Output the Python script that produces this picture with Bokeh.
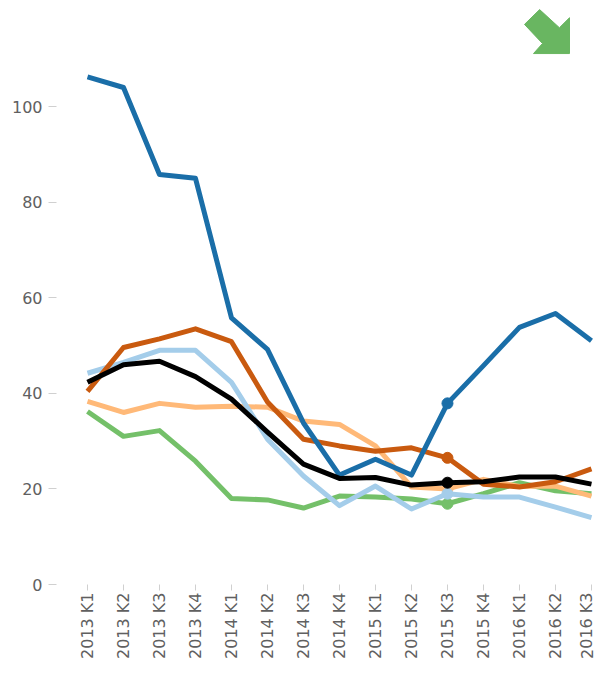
from bokeh.plotting import figure
from bokeh.embed import file_html
from bokeh.resources import INLINE
from bokeh.models import FixedTicker, Range1d

quarters = ["2013 K1", "2013 K2", "2013 K3", "2013 K4",
            "2014 K1", "2014 K2", "2014 K3", "2014 K4",
            "2015 K1", "2015 K2", "2015 K3", "2015 K4",
            "2016 K1", "2016 K2", "2016 K3"]

blue = [106.2, 104.0, 85.8, 85.0, 55.8, 49.2, 33.8, 22.9, 26.2, 22.9, 37.9, 45.8, 53.8, 56.7, 51.0]
dark_orange = [40.4, 49.6, 51.4, 53.5, 50.8, 38.2, 30.4, 29.0, 27.9, 28.6, 26.5, 21.0, 20.4, 21.5, 24.2]
light_blue = [44.2, 46.5, 49.0, 49.0, 42.3, 30.4, 22.7, 16.5, 20.6, 15.8, 19.0, 18.3, 18.3, 16.2, 14.0]
black = [42.3, 46.0, 46.7, 43.5, 38.8, 31.9, 25.2, 22.2, 22.4, 20.8, 21.3, 21.5, 22.5, 22.5, 21.0]
light_orange = [38.3, 36.0, 37.9, 37.1, 37.3, 37.1, 34.2, 33.5, 29.0, 20.4, 20.0, 22.0, 20.5, 20.6, 18.5]
green = [36.2, 31.0, 32.2, 25.8, 18.0, 17.7, 16.0, 18.5, 18.3, 17.9, 16.9, 19.0, 21.3, 19.6, 19.0]

highlight_index = 10  # 2015 K3

# trend arrow icon (data units)
arrow_x = [12.56, 13.11, 13.39, 13.39, 12.39, 12.64, 12.14]
arrow_y = [120.3, 116.5, 118.6, 111.1, 111.1, 113.2, 117.2]

y_ticks = [0, 20, 40, 60, 80, 100]

series = [
    (green, "#74c069"),
    (light_orange, "#ffb978"),
    (light_blue, "#a4cdea"),
    (dark_orange, "#c95a0f"),
    (blue, "#1a6ea8"),
    (black, "#000000"),
]

p = figure(width=596, height=661, output_backend="svg", toolbar_location=None,
           x_range=Range1d(-0.861, 14.14), y_range=Range1d(0, 122.2),
           min_border_left=56, min_border_right=0, min_border_top=0,
           min_border_bottom=77)
p.outline_line_color = None
p.xgrid.grid_line_color = None
p.ygrid.grid_line_color = None
p.background_fill_color = "white"
p.border_fill_color = "white"

xs = list(range(len(quarters)))
for vals, col in series:
    p.line(xs, vals, line_color=col, line_width=5, line_join="round")
    p.scatter([xs[highlight_index]], [vals[highlight_index]], size=11,
              fill_color=col, line_color=col)

p.patch(arrow_x, arrow_y, fill_color="#69b661", line_color="#69b661")

font = "DejaVu Sans"
fs = "16px"
lab_col = "#606060"

p.yaxis.ticker = FixedTicker(ticks=y_ticks)
p.yaxis.axis_line_color = None
p.yaxis.major_tick_line_color = "#d0d0d0"
p.yaxis.major_tick_out = 8
p.yaxis.major_tick_in = 0
p.yaxis.minor_tick_line_color = None
p.yaxis.major_label_text_font = font
p.yaxis.major_label_text_font_size = fs
p.yaxis.major_label_text_color = lab_col
p.yaxis.major_label_standoff = 6

p.xaxis.ticker = FixedTicker(ticks=xs)
p.xaxis.major_label_overrides = {i: q for i, q in enumerate(quarters)}
p.xaxis.major_label_orientation = 1.5708
p.xaxis.axis_line_color = None
p.xaxis.major_tick_line_color = "#d0d0d0"
p.xaxis.major_tick_out = 6
p.xaxis.major_tick_in = 0
p.xaxis.minor_tick_line_color = None
p.xaxis.major_label_text_font = font
p.xaxis.major_label_text_font_size = fs
p.xaxis.major_label_text_color = lab_col
p.xaxis.major_label_standoff = 2

open("out.html", "w").write(file_html(p, INLINE))
